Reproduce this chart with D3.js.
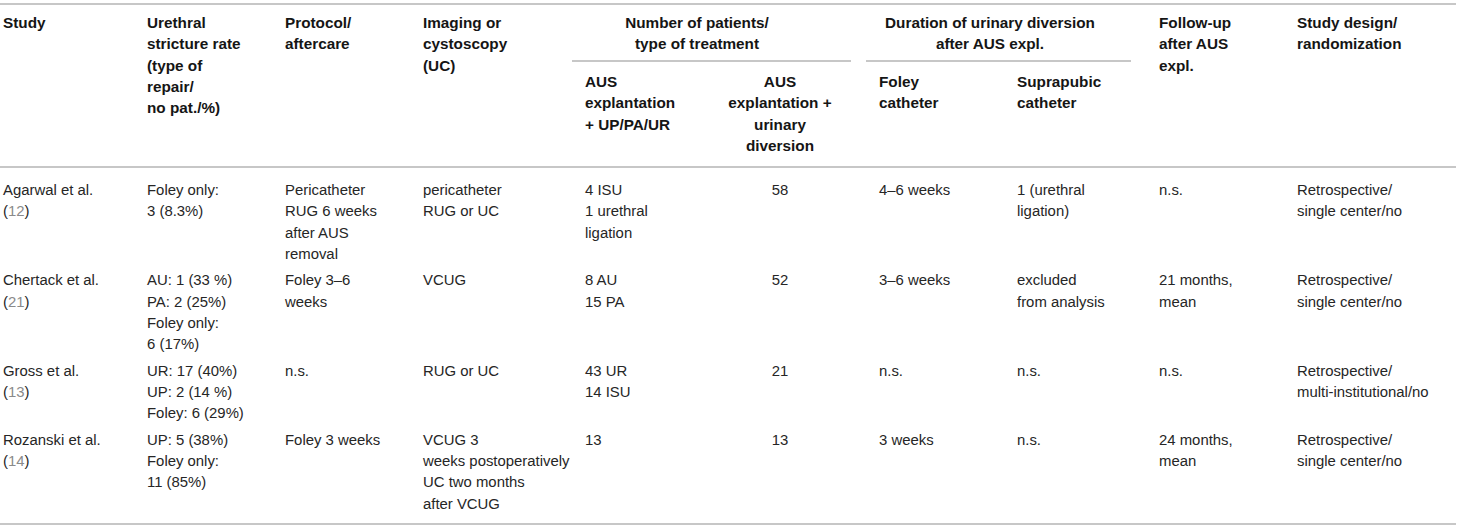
<!DOCTYPE html>
<html>
<head>
<meta charset="utf-8">
<script src="https://cdn.jsdelivr.net/npm/d3@7/dist/d3.min.js"></script>
<style>
  body { margin: 0; background: #fff; }
  text { font-family: "Liberation Sans", Arial, Helvetica, sans-serif; font-size: 14.9px; }
  .head text { font-size: 15.3px; }
</style>
</head>
<body>
<div id="content"></div>
<script>
// table content, one array per column
var studies = ["Agarwal et al.", "Chertack et al.", "Gross et al.", "Rozanski et al."];
var refs = ["12", "21", "13", "14"];
var strictureRate = ["Foley only:\n3 (8.3%)", "AU: 1 (33 %)\nPA: 2 (25%)\nFoley only:\n6 (17%)",
                     "UR: 17 (40%)\nUP: 2 (14 %)\nFoley: 6 (29%)", "UP: 5 (38%)\nFoley only:\n11 (85%)"];
var protocol = ["Pericatheter\nRUG 6 weeks\nafter AUS\nremoval", "Foley 3–6\nweeks", "n.s.", "Foley 3 weeks"];
var imaging = ["pericatheter\nRUG or UC", "VCUG", "RUG or UC", "VCUG 3\nweeks postoperatively\nUC two months\nafter VCUG"];
var ausRepair = ["4 ISU\n1 urethral\nligation", "8 AU\n15 PA", "43 UR\n14 ISU", "13"];
var ausDiversion = ["58", "52", "21", "13"];
var foleyDuration = ["4–6 weeks", "3–6 weeks", "n.s.", "3 weeks"];
var suprapubic = ["1 (urethral\nligation)", "excluded\nfrom analysis", "n.s.", "n.s."];
var followUp = ["n.s.", "21 months,\nmean", "n.s.", "24 months,\nmean"];
var design = ["Retrospective/\nsingle center/no", "Retrospective/\nsingle center/no",
              "Retrospective/\nmulti-institutional/no", "Retrospective/\nsingle center/no"];

var colKeys = ["study", "rate", "protocol", "imaging", "repair", "diversion", "foley", "supra", "follow", "design"];
var topHeaders = ["Study", "Urethral\nstricture rate\n(type of\nrepair/\nno pat./%)", "Protocol/\naftercare",
                  "Imaging or\ncystoscopy\n(UC)", null, null, null, null, "Follow-up\nafter AUS\nexpl.",
                  "Study design/\nrandomization"];
var groupHeaders = ["Number of patients/\ntype of treatment", "Duration of urinary diversion\nafter AUS expl."];
var subHeaders = ["AUS\nexplantation\n+ UP/PA/UR", "AUS\nexplantation +\nurinary\ndiversion", "Foley\ncatheter", "Suprapubic\ncatheter"];

// layout
var width = 1460, height = 529;
var lineH = 21.33;
var ruleColor = "#b4b4b4";
var headColor = "#151515", bodyColor = "#262626", refColor = "#8a8a8a";

var colX = d3.scaleOrdinal()
  .domain(colKeys)
  .range([3, 147, 285, 423, 585, 780, 879, 1017, 1159, 1297]);
var colAnchor = function(k){ return k === "diversion" ? "middle" : "start"; };

var groups = [
  {label: groupHeaders[0], cx: 697, x0: 572, x1: 851},
  {label: groupHeaders[1], cx: 990, x0: 866, x1: 1131}
];

var svg = d3.select("#content").append("svg")
  .attr("width", width)
  .attr("height", height);

function multiLine(sel, str, x, y, anchor, color, weight) {
  var t = sel.append("text")
    .attr("x", x).attr("y", y)
    .attr("text-anchor", anchor)
    .attr("fill", color)
    .attr("font-weight", weight);
  str.split("\n").forEach(function(line, i){
    t.append("tspan").attr("x", x).attr("dy", i === 0 ? 0 : lineH).text(line);
  });
  return t;
}

// rules
var rules = [
  {x0: 0, x1: 1456, y: 4},
  {x0: groups[0].x0, x1: groups[0].x1, y: 61},
  {x0: groups[1].x0, x1: groups[1].x1, y: 61},
  {x0: 0, x1: 1456, y: 167},
  {x0: 0, x1: 1456, y: 524}
];
svg.selectAll(".rule")
  .data(rules)
  .enter()
  .append("line")
  .attr("class", "rule")
  .attr("x1", function(d){ return d.x0; })
  .attr("x2", function(d){ return d.x1; })
  .attr("y1", function(d){ return d.y; })
  .attr("y2", function(d){ return d.y; })
  .attr("stroke", ruleColor)
  .attr("stroke-width", 1.6);

// header
var head = svg.append("g").attr("class", "head");
topHeaders.forEach(function(h, i){
  if (h) multiLine(head, h, colX(colKeys[i]), 28, "start", headColor, "bold");
});
groups.forEach(function(g){
  multiLine(head, g.label, g.cx, 28, "middle", headColor, "bold");
});
["repair", "diversion", "foley", "supra"].forEach(function(k, i){
  multiLine(head, subHeaders[i], colX(k), 87, colAnchor(k), headColor, "bold");
});

// body rows
var columns = {
  rate: strictureRate, protocol: protocol, imaging: imaging, repair: ausRepair,
  diversion: ausDiversion, foley: foleyDuration, supra: suprapubic, follow: followUp, design: design
};
var rowY = [];
var y = 195;
studies.forEach(function(s, r){
  rowY.push(y);
  var maxLines = 2;
  Object.keys(columns).forEach(function(k){
    maxLines = Math.max(maxLines, columns[k][r].split("\n").length);
  });
  y += maxLines * lineH + 5;
});

var rows = svg.selectAll(".row")
  .data(studies)
  .enter()
  .append("g")
  .attr("class", "row");

rows.each(function(s, r){
  var g = d3.select(this);
  var yy = rowY[r];
  g.append("text").attr("x", colX("study")).attr("y", yy).attr("fill", bodyColor).text(s);
  var ref = g.append("text").attr("x", colX("study")).attr("y", yy + lineH).attr("fill", bodyColor);
  ref.append("tspan").text("(");
  ref.append("tspan").attr("fill", refColor).text(refs[r]);
  ref.append("tspan").text(")");
  Object.keys(columns).forEach(function(k){
    multiLine(g, columns[k][r], colX(k), yy, colAnchor(k), bodyColor, "normal");
  });
});
</script>
</body>
</html>
